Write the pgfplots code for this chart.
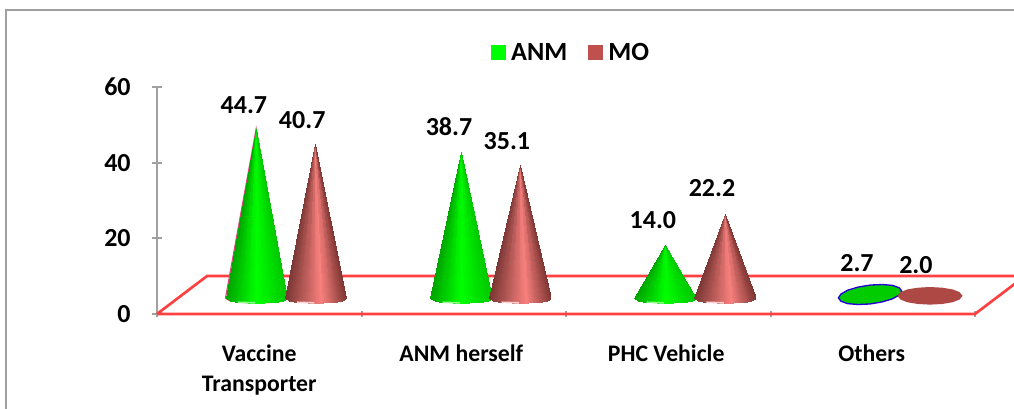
\documentclass[border=0pt]{standalone}
\usepackage{fontspec}
\setmainfont{Carlito}
\usepackage{pgfplots}
\usepackage{pgfplotstable}
\pgfplotsset{compat=1.18}
\definecolor{framegray}{RGB}{160,160,160}
\definecolor{floorred}{RGB}{255,64,64}
\definecolor{legmo}{RGB}{192,80,77}
\pgfplotsset{
  colormap={grn}{rgb255(0cm)=(0,165,0) rgb255(5cm)=(0,255,0) rgb255(10cm)=(0,200,0)},
  colormap={mor}{rgb255(0cm)=(122,55,52) rgb255(6cm)=(248,128,125) rgb255(10cm)=(128,55,52)},
}
% one cone as a fan of triangles: dx, drop along the base, share of the height, colour
\pgfplotstableread{
dx b h m
0 0 1 .008
-.150 0 0 0
-.145 -.342 0 .017
0 0 1 .042
-.145 -.342 0 .017
-.130 -.660 0 .067
0 0 1 .106
-.130 -.660 0 .067
-.106 -.933 0 .146
0 0 1 .198
-.106 -.933 0 .146
-.075 -1.143 0 .25
0 0 1 .31
-.075 -1.143 0 .25
-.039 -1.275 0 .37
0 0 1 .435
-.039 -1.275 0 .37
0 -1.32 0 .5
0 0 1 .565
0 -1.32 0 .5
.039 -1.275 0 .63
0 0 1 .69
.039 -1.275 0 .63
.075 -1.143 0 .75
0 0 1 .802
.075 -1.143 0 .75
.106 -.933 0 .854
0 0 1 .893
.106 -.933 0 .854
.130 -.660 0 .933
0 0 1 .958
.130 -.660 0 .933
.145 -.342 0 .983
0 0 1 .99
.145 -.342 0 .983
.150 0 0 1
}\conefan
\pgfplotstableread{
dx b h
-.150 0 0
-.130 -.660 0
-.075 -1.143 0
0 -1.32 0
.075 -1.143 0
.130 -.660 0
.150 0 0
0 0 1
-.150 0 0
}\coneline
\pgfplotstableread{
ux uy
-1 0
-.92 .38
-.71 .71
-.38 .92
0 1
.38 .92
.71 .71
.92 .38
1 0
.92 -.38
.71 -.71
.38 -.92
0 -1
-.38 -.92
-.71 -.71
-.92 -.38
}\discrows
\pgfplotstableread{
x y lab
.425 55.3 44.7
.71 51.3 40.7
1.428 49.5 38.7
1.711 45.8 35.1
2.425 24.9 14.0
2.714 33.3 22.2
3.423 13.5 2.7
3.711 13.0 2.0
}\labels
\newcommand\cone[3]{% centre, value, colormap
  \addplot[patch, patch type=triangle, shader=interp, colormap name=#3, forget plot,
    point meta=\thisrow{m}]
    table[x expr=\thisrow{dx}+#1, y expr=4.2+\thisrow{b}+\thisrow{h}*#2] {\conefan};
  \addplot[draw=#3glint, line width=1.2pt, forget plot]
    coordinates {(#1-.09,3.1) (#1-.005,2.95)};
}
\colorlet{grnglint}{green!45!white}
\colorlet{morglint}{red!18!white}
\newcommand\disc[5]{% centre, value, fill, edge, tilt
  \addplot[fill=#3, draw=#4, line width=1pt, forget plot]
    table[x expr=#1+.155*\thisrow{ux}, y expr=2.65+(#2+2.3)/2*(1+\thisrow{uy})+#5*\thisrow{ux}] {\discrows} -- cycle;
}
\begin{document}
\begin{tikzpicture}[x=1pt,y=1pt]
\useasboundingbox (0,0) rectangle (760.5,306.75);
\draw[framegray, line width=1.5pt] (4.5,-10) -- (4.5,299) -- (780,299);
\begin{axis}[
    at={(117.75pt,71.25pt)}, anchor=south west,
    scale only axis, width=613.5pt, height=170.25pt,
    xmin=0, xmax=4, ymin=0, ymax=60,
    clip=false,
    axis lines=left,
    axis line style={-, framegray, line width=1.9pt},
    tick style={framegray, line width=1.5pt},
    major tick length=7.5pt,
    minor tick length=5pt,
    x tick style={draw=none},
    minor x tick style={draw=framegray, line width=1.5pt},
    xtick={.5,1.488,2.49,3.495},
    minor xtick={0,1,2,3,4},
    xticklabels={Vaccine\\Transporter,ANM herself,PHC Vehicle,Others},
    ytick={0,20,40,60},
    point meta min=0, point meta max=1,
    /pgf/number format/assume math mode=true,
    yticklabel style={font=\fontsize{19.5}{22}\selectfont\bfseries, xshift=-12.5pt},
    xticklabel style={font=\fontsize{17.8}{22.5}\selectfont\bfseries, align=center, anchor=north, yshift=-16pt},
    legend style={draw=none, fill=none, at={(.5065,1.15)}, anchor=center,
      legend columns=2, font=\fontsize{19.7}{22}\selectfont\bfseries,
      /tikz/every even column/.append style={column sep=13.5pt}},
    legend image code/.code={\fill[draw=none,#1] (0pt,-5.6pt) rectangle (11.25pt,5.6pt); \path (13pt,0pt);},
]
\addlegendimage{fill=green}
\addlegendentry{ANM}
\addlegendimage{fill=legmo}
\addlegendentry{MO}
% floor of the 3D chart
\addplot[draw=floorred, line width=2pt, forget plot] coordinates {
  (0,0) (4,0) (4.245,10.05) (.245,10.05) (0,0)};
\addplot[draw=purple!70!white, line width=.9pt, forget plot]
  table[x expr=\thisrow{dx}+.485, y expr=4.2+\thisrow{b}+\thisrow{h}*44.7] {\coneline};
\cone{.485}{44.7}{grn}
\cone{.775}{40.7}{mor}
\cone{1.487}{38.7}{grn}
\cone{1.775}{35.1}{mor}
\cone{2.484}{14.0}{grn}
\cone{2.777}{22.2}{mor}
\disc{3.487}{2.7}{green!80!black}{blue!70!violet}{.9}
\disc{3.78}{2.0}{legmo!90!black}{legmo!90!black}{0}
\addplot[only marks, mark size=0pt, forget plot, point meta=explicit symbolic,
  nodes near coords,
  every node near coord/.append style={anchor=center, black, font=\fontsize{19.5}{22}\selectfont\bfseries}]
  table[x=x, y=y, meta=lab] {\labels};
\end{axis}
\end{tikzpicture}
\end{document}
